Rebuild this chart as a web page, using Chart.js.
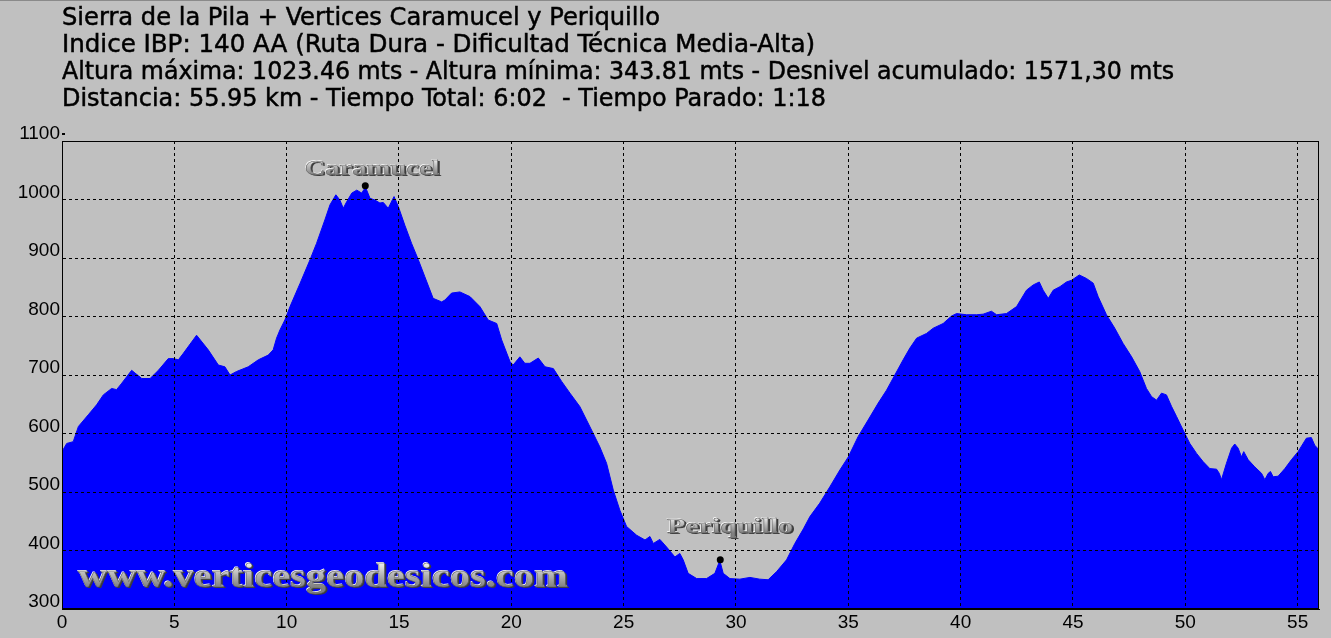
<!DOCTYPE html>
<html>
<head>
<meta charset="utf-8">
<script src="https://cdn.jsdelivr.net/npm/chart.js@4.4.0/dist/chart.umd.min.js"></script>
<style>
  html, body { margin: 0; padding: 0; background: #c0c0c0; overflow: hidden; }
  #wrap { position: relative; width: 1331px; height: 638px; }
  canvas { display: block; }
</style>
</head>
<body>
<div id="wrap"><canvas id="c" width="1331" height="638"></canvas></div>
<script>
// ---------------- DATA ----------------
const titleLines = [
  'Sierra de la Pila + Vertices Caramucel y Periquillo',
  'Indice IBP: 140 AA (Ruta Dura - Dificultad Técnica Media-Alta)',
  'Altura máxima: 1023.46 mts - Altura mínima: 343.81 mts - Desnivel acumulado: 1571,30 mts',
  'Distancia: 55.95 km - Tiempo Total: 6:02  - Tiempo Parado: 1:18'
];
const watermarkText = 'www.verticesgeodesicos.com';

const distanceKm = [
  0.00, 0.21, 0.50, 0.73, 1.17, 1.54, 1.84, 2.21, 2.43, 2.66,
  3.10, 3.55, 3.92, 4.29, 4.73, 4.95, 5.18, 5.40, 5.99, 6.51,
  6.96, 7.25, 7.48, 7.77, 8.29, 8.74, 9.18, 9.40, 9.55, 9.70,
  9.92, 10.15, 10.60, 11.04, 11.33, 11.70, 11.93, 12.19, 12.37, 12.52,
  12.67, 12.90, 13.12, 13.34, 13.51, 13.71, 13.93, 14.15, 14.30, 14.52,
  14.78, 14.97, 15.26, 15.56, 15.86, 16.15, 16.52, 16.90, 17.04, 17.34,
  17.71, 18.16, 18.60, 18.97, 19.35, 19.57, 19.94, 20.08, 20.38, 20.60,
  20.83, 21.20, 21.50, 21.87, 22.24, 22.61, 23.05, 23.57, 23.94, 24.24,
  24.54, 24.83, 25.13, 25.58, 25.95, 26.17, 26.32, 26.61, 26.91, 27.28,
  27.50, 27.65, 27.87, 28.25, 28.69, 29.06, 29.28, 29.43, 29.73, 30.17,
  30.62, 31.06, 31.43, 31.81, 32.25, 32.62, 33.00, 33.29, 33.73, 34.18,
  34.63, 35.00, 35.44, 35.88, 36.33, 36.70, 37.07, 37.44, 37.74, 38.04,
  38.48, 38.78, 39.22, 39.60, 39.82, 40.26, 40.71, 41.00, 41.37, 41.60,
  42.04, 42.49, 42.93, 43.23, 43.50, 43.67, 43.90, 44.12, 44.42, 44.71,
  44.94, 45.28, 45.60, 45.90, 46.12, 46.49, 46.86, 47.23, 47.61, 47.97,
  48.27, 48.50, 48.72, 48.94, 49.16, 49.39, 49.61, 49.90, 50.20, 50.50,
  50.79, 51.09, 51.39, 51.51, 51.61, 51.83, 52.06, 52.20, 52.35, 52.50,
  52.60, 52.80, 53.09, 53.39, 53.54, 53.69, 53.79, 53.91, 54.13, 54.43,
  54.72, 55.02, 55.39, 55.61, 55.76, 55.95
];
const elevationM = [
  569, 583, 586, 612, 632, 649, 666, 677, 675, 686,
  708, 694, 694, 708, 728, 728, 726, 737, 768, 743,
  717, 714, 700, 706, 714, 726, 734, 743, 763, 777,
  794, 817, 857, 897, 925, 965, 991, 1008, 999, 985,
  996, 1011, 1016, 1011, 1021, 1002, 999, 994, 995, 985,
  1005, 988, 956, 925, 897, 868, 831, 825, 828, 840,
  842, 834, 817, 794, 788, 760, 723, 717, 731, 720,
  720, 729, 714, 711, 689, 669, 646, 606, 577, 549,
  503, 469, 441, 426, 418, 424, 412, 419, 406, 389,
  395, 384, 361, 352, 352, 361, 383, 361, 352, 351,
  354, 351, 350, 364, 384, 412, 437, 458, 481, 509,
  538, 560, 595, 623, 652, 674, 700, 726, 746, 763,
  771, 780, 788, 801, 805, 803, 803, 804, 809, 803,
  805, 817, 845, 854, 859, 845, 831, 845, 851, 859,
  862, 871, 865, 857, 834, 803, 780, 754, 731, 706,
  677, 663, 657, 669, 666, 646, 629, 606, 583, 566,
  552, 540, 539, 532, 521, 549, 575, 582, 575, 560,
  569, 555, 543, 532, 521, 532, 535, 526, 527, 540,
  555, 569, 592, 593, 580, 572
];
const summitNames = ['Caramucel', 'Periquillo'];
const summitKm = [13.5, 29.3];
const summitElev = [1023.46, 384];

const xTickValues = [0, 5, 10, 15, 20, 25, 30, 35, 40, 45, 50, 55];
const yTickValues = [300, 400, 500, 600, 700, 800, 900, 1000, 1100];
const xMin = 0, xMax = 55.95, yMin = 300, yMax = 1100;

// ---------------- STYLE ----------------
const titleLineWidths = [598, 753, 1112, 764];
const summitLabelStyle = [
  { dx: 7, dy: -11, width: 135 },
  { dx: 10, dy: -27, width: 126 }
];

function embossText(ctx, text, cx, baseline, size, targetW) {
  ctx.save();
  ctx.font = 'bold ' + size + 'px "Liberation Serif", "DejaVu Serif", serif';
  const w = ctx.measureText(text).width;
  const sx = targetW / w;
  ctx.translate(cx - targetW / 2, baseline);
  ctx.scale(sx, 1);
  ctx.textBaseline = 'alphabetic';
  ctx.textAlign = 'left';
  ctx.fillStyle = '#3c3c3c';
  ctx.fillText(text, 1.4, 1.4);
  ctx.fillStyle = '#fafafa';
  ctx.fillText(text, -0.7, -0.7);
  const g = ctx.createLinearGradient(0, -size * 0.7, 0, 0);
  g.addColorStop(0, '#f0f0f0');
  g.addColorStop(0.5, '#b4b4b4');
  g.addColorStop(1, '#808080');
  ctx.fillStyle = g;
  ctx.fillText(text, 0, 0);
  ctx.lineWidth = 0.5;
  ctx.strokeStyle = '#5a5a5a';
  ctx.strokeText(text, 0, 0);
  ctx.restore();
}

const decorPlugin = {
  id: 'decor',
  beforeDraw(chart) {
    const ctx = chart.ctx;
    ctx.save();
    ctx.fillStyle = '#c0c0c0';
    ctx.fillRect(0, 0, chart.width, chart.height);
    ctx.fillStyle = '#8a8a8a';
    ctx.fillRect(0, 0, chart.width, 1);
    ctx.fillStyle = '#000';
    ctx.strokeStyle = '#000';
    ctx.lineWidth = 0.45;
    ctx.textBaseline = 'alphabetic';
    ctx.textAlign = 'left';
    ctx.font = '24px "DejaVu Sans Condensed", "DejaVu Sans", sans-serif';
    titleLines.forEach((t, i) => {
      const sx = titleLineWidths[i] / ctx.measureText(t).width;
      ctx.save();
      ctx.translate(62, 25 + i * 27);
      ctx.scale(sx, 1);
      ctx.fillText(t, 0, 0);
      ctx.strokeText(t, 0, 0);
      ctx.restore();
    });
    ctx.restore();
  },
  afterDraw(chart) {
    const ctx = chart.ctx;
    const a = chart.chartArea;
    const xs = chart.scales.x, ys = chart.scales.y;
    ctx.save();
    ctx.strokeStyle = '#000';
    ctx.lineWidth = 1;
    ctx.strokeRect(Math.round(a.left) + 0.5, Math.round(a.top) + 0.5,
      Math.round(a.right - a.left) - 1, Math.round(a.bottom - a.top) - 1);
    ctx.fillStyle = '#000';
    ctx.fillRect(Math.round(a.left), Math.round(ys.getPixelForValue(yMax)) - 8, 3, 2);
    summitNames.forEach((n, i) => {
      const st = summitLabelStyle[i];
      const px = xs.getPixelForValue(summitKm[i]);
      const py = ys.getPixelForValue(summitElev[i]);
      embossText(ctx, n, px + st.dx, py + st.dy, 22, st.width);
    });
    embossText(ctx, watermarkText, 78 + 245, 587, 34, 490);
    ctx.restore();
  }
};

const profile = distanceKm.map((d, i) => ({ x: d, y: elevationM[i] }));
const summits = summitKm.map((d, i) => ({ x: d, y: summitElev[i] }));

const tickFont = { family: '"Liberation Sans", Arial, sans-serif', size: 19 };

new Chart(document.getElementById('c'), {
  type: 'line',
  data: {
    datasets: [
      {
        data: profile,
        fill: 'start',
        backgroundColor: '#0000ff',
        borderColor: '#0000ff',
        borderWidth: 1,
        pointRadius: 0,
        tension: 0,
        order: 2
      },
      {
        type: 'scatter',
        data: summits,
        pointRadius: 3.5,
        backgroundColor: '#000',
        borderColor: '#000',
        borderWidth: 0,
        order: 1
      }
    ]
  },
  options: {
    responsive: false,
    animation: false,
    devicePixelRatio: 1,
    layout: { padding: { left: 0, right: 12, top: 141, bottom: 0 } },
    plugins: { legend: { display: false }, tooltip: { enabled: false }, title: { display: false } },
    scales: {
      x: {
        type: 'linear',
        min: xMin, max: xMax,
        afterBuildTicks: s => { s.ticks = xTickValues.map(v => ({ value: v })); },
        afterFit: s => { s.height = 29; },
        grid: { color: '#000', lineWidth: 1, drawTicks: false, z: 1 },
        border: { display: true, color: '#000', width: 1, dash: [3, 3], z: 1 },
        ticks: { color: '#000', font: tickFont, padding: 2, maxRotation: 0, autoSkip: false, callback: v => String(v) }
      },
      y: {
        type: 'linear',
        min: yMin, max: yMax,
        afterBuildTicks: s => { s.ticks = yTickValues.map(v => ({ value: v })); },
        afterFit: s => { s.width = 62; },
        grid: { color: '#000', lineWidth: 1, drawTicks: false, z: 1 },
        border: { display: true, color: '#000', width: 1, dash: [3, 3], z: 1 },
        ticks: { color: '#000', font: tickFont, padding: 2, labelOffset: -7, autoSkip: false, callback: v => String(v) }
      }
    }
  },
  plugins: [decorPlugin]
});
</script>
</body>
</html>
